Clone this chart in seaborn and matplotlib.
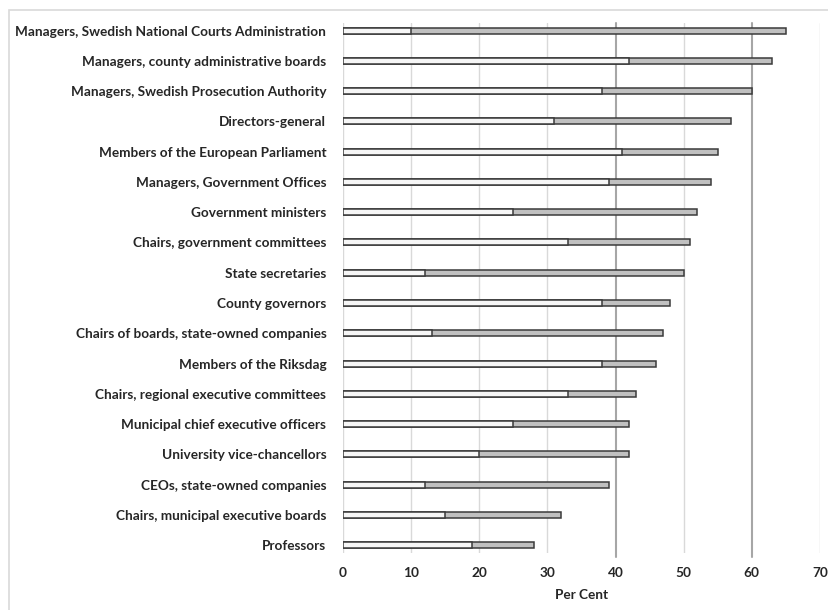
import matplotlib.pyplot as plt
import matplotlib.patches as mpatches
import numpy as np
import pandas as pd
import seaborn as sns

categories = [
    "Managers, Swedish National Courts Administration",
    "Managers, county administrative boards",
    "Managers, Swedish Prosecution Authority",
    "Directors-general",
    "Members of the European Parliament",
    "Managers, Government Offices",
    "Government ministers",
    "Chairs, government committees",
    "State secretaries",
    "County governors",
    "Chairs of boards, state-owned companies",
    "Members of the Riksdag",
    "Chairs, regional executive committees",
    "Municipal chief executive officers",
    "University vice-chancellors",
    "CEOs, state-owned companies",
    "Chairs, municipal executive boards",
    "Professors",
]
# lower value (white part) and upper value (end of grey part), per cent
low_values = [10, 42, 38, 31, 41, 39, 25, 33, 12, 38, 13, 38, 33, 25, 20, 12, 15, 19]
high_values = [65, 63, 60, 57, 55, 54, 52, 51, 50, 48, 47, 46, 43, 42, 42, 39, 32, 28]
x_ticks = [0, 10, 20, 30, 40, 50, 60, 70]
ref_lines = [40, 60]

df = pd.DataFrame({"category": categories, "low": low_values, "high": high_values})

sns.set_style("white")
plt.rcParams["font.family"] = ["Lato", "DejaVu Sans"]

fig = plt.figure(figsize=(8.29, 6.10), dpi=100)
ax = fig.add_axes([0.4137, 0.0934, 0.5754, 0.8689])

# outer frame of the chart area
fig.patches.append(mpatches.Rectangle((9 / 829, -0.1), 1.2, 1.1 - 10 / 610,
                                      transform=fig.transFigure, fill=False,
                                      edgecolor="#d9d9d9", linewidth=1.2))

for x in x_ticks:
    if x not in ref_lines:
        ax.axvline(x, color="#d9d9d9", linewidth=1, zorder=0)
for x in ref_lines:
    ax.axvline(x, ymin=-0.008, color="#a6a6a6", linewidth=1.5, zorder=0, clip_on=False)

sns.barplot(data=df, x="high", y="category", orient="h", color="#c0c0c0",
            saturation=1, width=0.2, edgecolor="#3a3a3a", linewidth=1.1, ax=ax, zorder=2)
sns.barplot(data=df, x="low", y="category", orient="h", color="#f6f6f6",
            saturation=1, width=0.2, edgecolor="#3a3a3a", linewidth=1.1, ax=ax, zorder=3)

ax.set_xlim(0, 70)
ax.set_ylim(len(categories) - 1 + 0.26, -0.25)
ax.set_xticks(x_ticks)
ax.set_xlabel("Per Cent", fontsize=9.8, fontweight="bold", labelpad=7)
ax.set_ylabel("")
ax.tick_params(axis="both", length=0, labelsize=9.8)
ax.tick_params(axis="y", pad=12)
ax.tick_params(axis="x", pad=10)
for lab in ax.get_xticklabels() + ax.get_yticklabels():
    lab.set_fontweight("bold")
for s in ax.spines.values():
    s.set_visible(False)

fig.savefig("out.png", dpi=100)
